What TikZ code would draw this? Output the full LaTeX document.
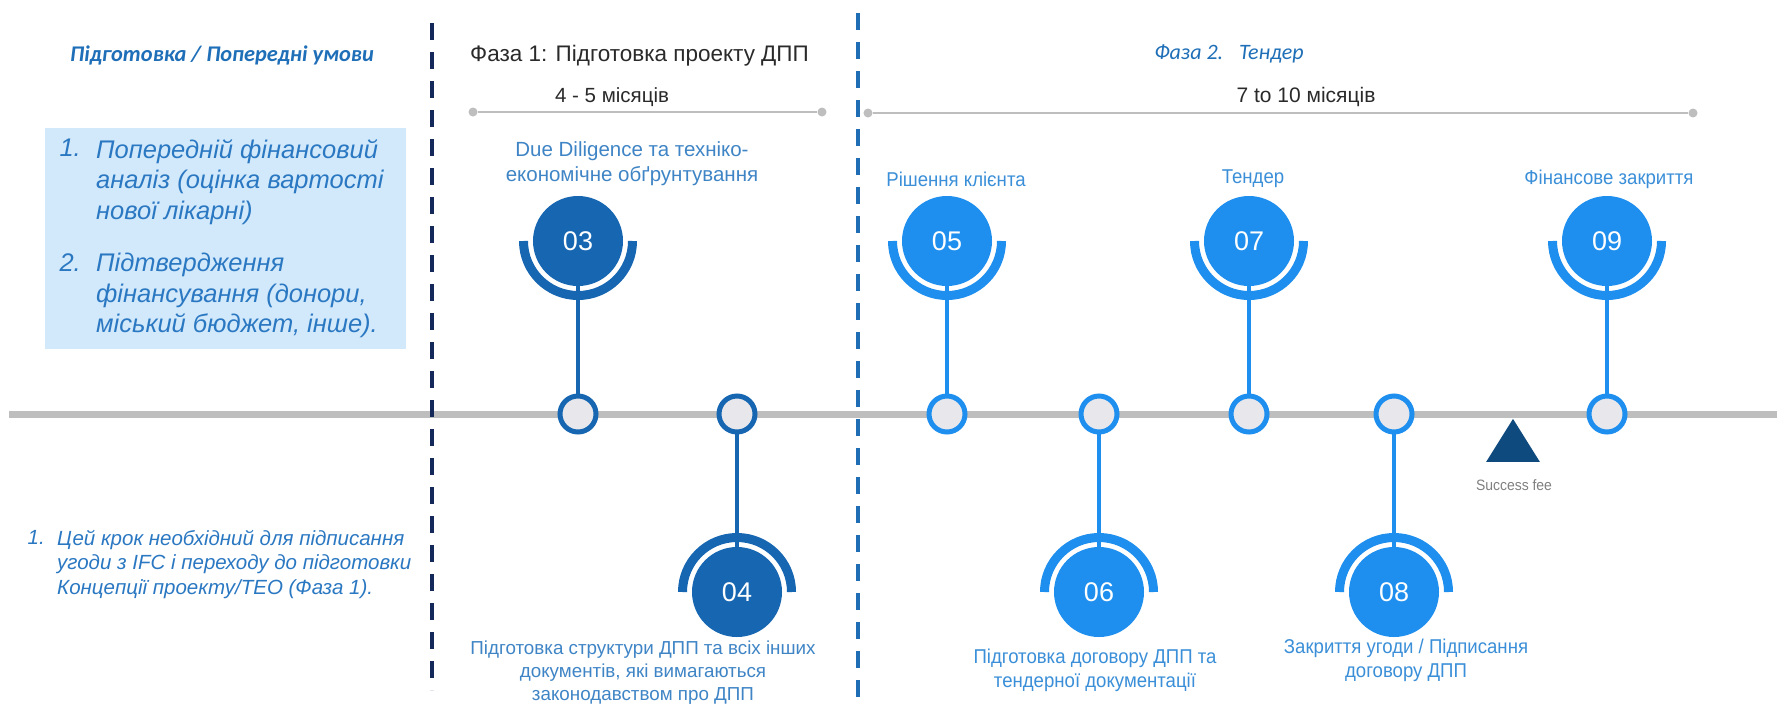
\documentclass[tikz,border=0pt]{standalone}
\usepackage{fontspec}
\setmainfont{Liberation Sans}
\newfontfamily\narrowfont[FakeStretch=0.93]{Liberation Sans}
\newfontfamily\calfont{Carlito}
\usetikzlibrary{calc,shapes.geometric}
\pgfdeclarelayer{bglayer}
\pgfdeclarelayer{stemlayer}
\pgfsetlayers{bglayer,stemlayer,main}
\definecolor{dblue}{HTML}{1666B2}
\definecolor{lblue}{HTML}{1E8FEE}
\definecolor{nodefill}{HTML}{E8E8EC}
\definecolor{tgray}{HTML}{BEBEBE}
\definecolor{navy}{HTML}{14285A}
\definecolor{dashblue}{HTML}{1F6DB5}
\definecolor{boxblue}{HTML}{D2E9FB}
\definecolor{txtblue}{HTML}{2B78C2}
\definecolor{lbltxt}{HTML}{3A8FD8}
\definecolor{ddtxt}{HTML}{3F85C6}
\definecolor{trinavy}{HTML}{0F4A7E}
\definecolor{headblue}{HTML}{1F6FB8}
\definecolor{darktxt}{HTML}{2A2A2A}
\tikzset{
  bigc/.style={circle, minimum size=90pt, inner sep=0pt, text=white, font=\fontsize{27}{27}\selectfont},
  smallc/.style={circle, minimum size=36pt, inner sep=0pt, fill=nodefill, line width=5pt, draw},
  halo/.style={line width=9pt, line cap=butt},
  stemline/.style={line width=4pt},
  lbl/.style={align=center, text=lbltxt, font=\narrowfont\fontsize{20}{24}\selectfont},
  ddlbl/.style={align=center, text=ddtxt, font=\fontsize{20.5}{25}\selectfont},
  vdash/.style={line width=4pt, dash pattern=on 17pt off 12pt},
  spanline/.style={draw=tgray, line width=2.5pt},
  spandot/.style={circle, fill=tgray, minimum size=9pt, inner sep=0pt},
}
\newcommand{\msUp}[4]{% name, x, colour, number
  \node[smallc, draw=#3] (s#1) at (#2,414) {};
  \node[bigc, fill=#3] (b#1) at (#2,241) {#4};
  \draw[halo, #3] ($(b#1.center)+(54.5,0)$) arc[start angle=0, end angle=180, radius=54.5];
  \begin{pgfonlayer}{stemlayer}\draw[stemline, #3] (b#1.center) -- (s#1.center);\end{pgfonlayer}
}
\newcommand{\msDown}[4]{%
  \node[smallc, draw=#3] (s#1) at (#2,414) {};
  \node[bigc, fill=#3] (b#1) at (#2,592) {#4};
  \draw[halo, #3] ($(b#1.center)+(54.5,0)$) arc[start angle=0, end angle=-180, radius=54.5];
  \begin{pgfonlayer}{stemlayer}\draw[stemline, #3] (b#1.center) -- (s#1.center);\end{pgfonlayer}
}
\begin{document}
\begin{tikzpicture}[x=1pt, y=-1pt]
\useasboundingbox (0,0) rectangle (1777,716);

% main timeline
\coordinate (tlA) at (9,414);
\coordinate (tlB) at (1777,414);
\begin{pgfonlayer}{bglayer}
\fill[white] (0,0) rectangle (1777,716);
\draw[tgray, line width=7pt] (tlA) -- (tlB);
\end{pgfonlayer}

% left panel
\node[font=\calfont\bfseries\itshape\fontsize{22.4}{22}\selectfont, text=headblue] (lhead) at (222,55) {Підготовка / Попередні умови};
\node[fill=boxblue, minimum width=361pt, minimum height=221pt, anchor=north west, inner sep=0pt] (lbox) at (45,128) {};
\node[anchor=north east, inner sep=0pt, text=txtblue, font=\itshape\fontsize{25.5}{30.5}\selectfont] (n1) at (81,139) {1.};
\node[anchor=north west, inner sep=0pt, align=left, text=txtblue, font=\itshape\fontsize{25.5}{30.5}\selectfont] (t1) at (96,139) {Попередній фінансовий\\аналіз (оцінка вартості\\нової лікарні)};
\node[anchor=north east, inner sep=0pt, text=txtblue, font=\itshape\fontsize{25.5}{30.5}\selectfont] (n2) at (81,253) {2.};
\node[anchor=north west, inner sep=0pt, align=left, text=txtblue, font=\itshape\fontsize{25.5}{30.5}\selectfont] (t2) at (96,253) {Підтвердження\\фінансування (донори,\\міський бюджет, інше).};

\node[anchor=north east, inner sep=0pt, text=txtblue, font=\itshape\fontsize{20.5}{24.5}\selectfont] (n3) at (45,530) {1.};
\node[anchor=north west, inner sep=0pt, align=left, text=txtblue, font=\itshape\fontsize{20.5}{24.5}\selectfont] (t3) at (57,530) {Цей крок необхідний для підписання\\угоди з IFC і переходу до підготовки\\Концепції проекту/ТЕО (Фаза 1).};

% phase 1
\node[anchor=west, inner sep=0pt, text=darktxt, font=\fontsize{22.5}{22}\selectfont] (p1) at (470,56) {Фаза 1: Підготовка проекту ДПП};
\node[text=darktxt, font=\fontsize{20.5}{20}\selectfont] (p1d) at (612,97) {4 - 5 місяців};
\node[spandot] (p1a) at (473,112) {};
\node[spandot] (p1b) at (822,112) {};
\draw[spanline] (p1a) -- (p1b);

% phase 2
\node[text=headblue, font=\calfont\itshape\fontsize{22}{22}\selectfont] (p2) at (1229,54) {Фаза 2.\hspace{16pt}Тендер};
\node[text=darktxt, font=\fontsize{21}{21}\selectfont] (p2d) at (1306,97) {7 to 10 місяців};
\node[spandot] (p2a) at (868,113) {};
\node[spandot] (p2b) at (1693,113) {};
\draw[spanline] (p2a) -- (p2b);

% milestones
\msUp{3}{578}{dblue}{03}
\msDown{4}{737}{dblue}{04}
\msUp{5}{947}{lblue}{05}
\msDown{6}{1099}{lblue}{06}
\msUp{7}{1249}{lblue}{07}
\msDown{8}{1394}{lblue}{08}
\msUp{9}{1607}{lblue}{09}

% labels
\node[ddlbl] (l3) at (632,164) {Due Diligence та техніко-\\економічне обґрунтування};
\node[ddlbl, font=\fontsize{18.8}{23}\selectfont] (l4) at (643,673) {Підготовка структури ДПП та всіх інших\\документів, які вимагаються\\законодавством про ДПП};
\node[lbl] (l5) at (956,179) {Рішення клієнта};
\node[lbl] (l7) at (1253,179) {Тендер};
\node[lbl] (l9) at (1609,179) {Фінансове закриття};
\node[lbl] (l6) at (1095,670) {Підготовка договору ДПП та\\тендерної документації};
\node[lbl] (l8) at (1406,660) {Закриття угоди / Підписання\\договору ДПП};

% success fee
\node[fill=trinavy, isosceles triangle, isosceles triangle apex angle=64, shape border rotate=90, minimum height=43pt, inner sep=0pt] (tri) at (1513,447) {};
\node[text=gray, font=\narrowfont\fontsize{15}{15}\selectfont] (sf) at (1514,485) {Success fee};

% phase separators
\coordinate (dA) at (432,23);
\coordinate (dB) at (432,690);
\draw[vdash, navy] (dA) -- (dB);
\coordinate (eA) at (858,13);
\coordinate (eB) at (858,708);
\draw[vdash, dashblue] (eA) -- (eB);
\end{tikzpicture}
\end{document}
